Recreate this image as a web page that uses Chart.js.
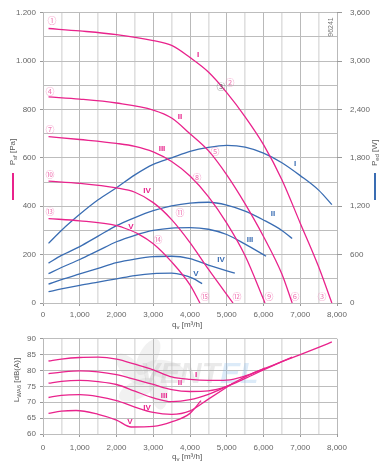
<!DOCTYPE html>
<html>
<head>
<meta charset="utf-8">
<script src="https://cdn.jsdelivr.net/npm/chart.js@4"></script>
<style>
  body { margin: 0; background: #fff; width: 386px; height: 465px; position: relative; overflow: hidden; }
  canvas { position: absolute; left: 0; }
  #top { top: 0; }
  #bot { top: 330px; }
</style>
</head>
<body>
<canvas id="top" width="386" height="330"></canvas>
<canvas id="bot" width="386" height="135"></canvas>
<script>
// flow values (m3/h) and static pressure (Pa) for speed curves I..V
const qI = [150, 1000, 2000, 3000, 3500, 4000, 4500, 5000, 5500, 6000, 6500, 7000, 7500, 7860];
const pI = [1135, 1125, 1110, 1085, 1065, 1015, 955, 870, 770, 655, 510, 330, 150, 0];
const qII = [150, 1000, 2000, 3000, 3500, 4000, 4500, 5000, 5500, 6000, 6500, 6780];
const pII = [852, 843, 827, 798, 765, 700, 630, 530, 410, 275, 120, 0];
const qIII = [150, 1000, 2000, 2500, 3000, 3500, 4000, 4500, 5000, 5500, 6040];
const pIII = [688, 676, 660, 648, 625, 585, 525, 440, 330, 195, 0];
const qIV = [150, 1000, 2000, 2500, 3000, 3500, 4000, 4500, 5170];
const pIV = [504, 495, 476, 458, 415, 345, 250, 140, 0];
const qV = [150, 1000, 2000, 2300, 2600, 3000, 3500, 4000, 4270];
const pV = [349, 340, 320, 305, 285, 245, 170, 75, 0];

// power input (W), right axis
const wqI = [150, 500, 1000, 1500, 2000, 2500, 3000, 3500, 4000, 4500, 5000, 5500, 6000, 6500, 7000, 7500, 7860];
const wI = [740, 900, 1100, 1280, 1430, 1590, 1720, 1800, 1880, 1930, 1955, 1935, 1860, 1740, 1580, 1400, 1220];
const wqII = [150, 500, 1000, 1500, 2000, 2500, 3000, 3500, 4000, 4500, 5000, 5500, 6000, 6500, 6780];
const wII = [495, 590, 700, 830, 960, 1060, 1145, 1205, 1240, 1250, 1215, 1140, 1030, 900, 800];
const wqIII = [150, 500, 1000, 1500, 2000, 2500, 3000, 3500, 4000, 4500, 5000, 5500, 6070];
const wIII = [365, 440, 540, 650, 760, 840, 900, 930, 935, 915, 850, 730, 580];
const wqIV = [150, 500, 1000, 1500, 2000, 2500, 3000, 3500, 4000, 4500, 5220];
const wIV = [235, 290, 360, 430, 500, 545, 575, 580, 550, 470, 370];
const wqV = [150, 500, 1000, 1500, 2000, 2500, 3000, 3500, 3800, 4080, 4330];
const wV = [140, 175, 220, 260, 300, 340, 365, 370, 350, 305, 240];

// sound power level dB(A)
const sqI = [150, 500, 1000, 1500, 2000, 2500, 3000, 3500, 4000, 4500, 5000, 5500, 6000, 6500, 7000, 7500, 7860];
const sI = [83, 83.6, 84.1, 84.2, 83.6, 82, 80.2, 78, 77.2, 76.9, 77, 78.3, 80.5, 82.8, 85, 87.3, 89];
const sqII = [150, 500, 1000, 1500, 2000, 2500, 3000, 3500, 4000, 4500, 5000, 5500, 6000, 6500, 6780];
const sII = [79, 79.5, 79.9, 79.6, 78.7, 77.2, 75.6, 74, 73.4, 73.6, 75, 77.5, 80.2, 82.8, 84.2];
const sqIII = [150, 500, 1000, 1500, 2000, 2500, 3000, 3500, 4000, 4500, 5000, 5500, 6040];
const sIII = [76, 76.6, 76.9, 76.5, 75.6, 73.5, 71.4, 70.2, 70.8, 72.5, 75, 78, 80.8];
const sqIV = [150, 500, 1000, 1500, 2000, 2500, 3000, 3500, 4000, 4500, 5170];
const sIV = [71.5, 72.2, 72.4, 71.8, 70.5, 68.5, 66.8, 66.2, 67.3, 71, 76];
const sqV = [150, 500, 900, 1500, 2000, 2400, 3000, 3500, 4000, 4300];
const sV = [66.5, 67.2, 67.4, 66.2, 64.4, 62.2, 62.4, 63.8, 66.5, 70.5];

// labels, positioned in data units [q, value, text]
const pinkRoman = [[4218, 1028, 'I'], [3728, 770, 'II'], [3238, 639, 'III'], [2830, 463, 'IV'], [2395, 316, 'V']];
const blueRoman = [[6857, 574, 'I'], [6259, 369, 'II'], [5633, 263, 'III'], [4844, 177, 'IV'], [4163, 120, 'V']];
const points = [[245, 1167, '①'], [190, 876, '④'], [190, 717, '⑦'], [190, 533, '⑩'], [190, 378, '⑬'],
  [5088, 913, '②'], [4680, 627, '⑤'], [4190, 517, '⑧'], [3728, 373, '⑪'], [3129, 263, '⑭'],
  [4408, 26, '⑮'], [5279, 26, '⑫'], [6150, 26, '⑨'], [6857, 26, '⑥'], [7592, 26, '③']];
const grayPoint = [4844, 893, '③'];
const soundRoman = [[4163, 78.7, 'I'], [3728, 76.0, 'II'], [3293, 72.0, 'III'], [2830, 68.3, 'IV'], [2367, 63.8, 'V']];

const PINK = '#e9238c';
const BLUE = '#3a6db3';
const FONT = 'Liberation Sans, Arial, sans-serif';

function curve(xs, ys, color, axis) {
  return {
    data: xs.map((x, i) => ({ x: x, y: ys[i] })),
    borderColor: color,
    borderWidth: 1.3,
    pointRadius: 0,
    showLine: true,
    fill: false,
    cubicInterpolationMode: 'monotone',
    yAxisID: axis
  };
}

function comma(v) { return v.toLocaleString('en-US'); }
function dot(v) { return v >= 1000 ? '1.' + String(v % 1000).padStart(3, '0') : String(v); }

const tickFont = { family: FONT, size: 8 };

function xScale(h, pad) {
  return {
    type: 'linear', min: 0, max: 8000,
    ticks: { stepSize: 500, autoSkip: false, maxRotation: 0, color: '#666', font: tickFont, padding: pad,
      callback: v => v % 1000 === 0 ? comma(v) : '' },
    grid: { color: c => c.tick && c.tick.value % 1000 === 0 ? '#b9b9b9' : '#e0e0e0',
      lineWidth: c => c.tick && c.tick.value % 1000 === 0 ? 1 : 1.6,
      tickLength: 3, tickColor: c => c.tick && c.tick.value % 1000 === 0 ? '#999' : 'rgba(0,0,0,0)' },
    border: { display: false },
    afterFit: s => { s.height = h; }
  };
}

function drawSubTitle(ctx, x, y, main, sub, rest, rotate) {
  ctx.save();
  ctx.translate(x, y);
  if (rotate) ctx.rotate(-Math.PI / 2);
  ctx.fillStyle = '#555';
  ctx.textBaseline = 'middle';
  ctx.font = '8px ' + FONT;
  const w1 = ctx.measureText(main).width;
  ctx.font = '6px ' + FONT;
  const w2 = ctx.measureText(sub).width;
  ctx.font = '8px ' + FONT;
  const w3 = ctx.measureText(rest).width;
  let px = rotate ? -(w1 + w2 + w3) / 2 : 0;
  ctx.fillText(main, px, 0);
  px += w1;
  ctx.font = '6px ' + FONT;
  ctx.fillText(sub, px, 2.5);
  px += w2;
  ctx.font = '8px ' + FONT;
  ctx.fillText(rest, px, 0);
  ctx.restore();
}

const topNotes = {
  id: 'topNotes',
  afterDatasetsDraw(chart) {
    const ctx = chart.ctx;
    const xs = chart.scales.x, ys = chart.scales.y;
    ctx.save();
    ctx.textAlign = 'center';
    ctx.textBaseline = 'middle';
    ctx.font = 'bold 8px ' + FONT;
    ctx.fillStyle = PINK;
    pinkRoman.forEach(l => ctx.fillText(l[2], xs.getPixelForValue(l[0]), ys.getPixelForValue(l[1])));
    ctx.fillStyle = BLUE;
    blueRoman.forEach(l => ctx.fillText(l[2], xs.getPixelForValue(l[0]), ys.getPixelForValue(l[1])));
    ctx.font = '9px Noto Sans CJK JP, DejaVu Sans, sans-serif';
    ctx.fillStyle = '#f07ab5';
    points.forEach(l => ctx.fillText(l[2], xs.getPixelForValue(l[0]), ys.getPixelForValue(l[1])));
    ctx.fillStyle = '#666';
    ctx.fillText(grayPoint[2], xs.getPixelForValue(grayPoint[0]), ys.getPixelForValue(grayPoint[1]));
    ctx.restore();

    // axis titles
    drawSubTitle(ctx, 13, 152, 'P', 'sf', ' [Pa]', true);
    drawSubTitle(ctx, 375, 153, 'P', 'ed', ' [W]', true);
    drawSubTitle(ctx, 172, 325, 'q', 'v', ' [m³/h]', false);
    ctx.save();
    ctx.lineWidth = 2;
    ctx.strokeStyle = PINK;
    ctx.beginPath(); ctx.moveTo(13, 173); ctx.lineTo(13, 200); ctx.stroke();
    ctx.strokeStyle = BLUE;
    ctx.beginPath(); ctx.moveTo(375, 173); ctx.lineTo(375, 200); ctx.stroke();
    ctx.translate(331, 27);
    ctx.rotate(-Math.PI / 2);
    ctx.font = '7px ' + FONT;
    ctx.fillStyle = '#777';
    ctx.textAlign = 'center';
    ctx.textBaseline = 'middle';
    ctx.fillText('96241', 0, 0);
    ctx.restore();
  }
};

new Chart(document.getElementById('top'), {
  type: 'scatter',
  data: {
    datasets: [
      curve(qI, pI, PINK, 'y'), curve(qII, pII, PINK, 'y'), curve(qIII, pIII, PINK, 'y'),
      curve(qIV, pIV, PINK, 'y'), curve(qV, pV, PINK, 'y'),
      curve(wqI, wI, BLUE, 'y2'), curve(wqII, wII, BLUE, 'y2'), curve(wqIII, wIII, BLUE, 'y2'),
      curve(wqIV, wIV, BLUE, 'y2'), curve(wqV, wV, BLUE, 'y2')
    ]
  },
  options: {
    responsive: false,
    animation: false,
    layout: { padding: { top: 10, left: 0, right: 0, bottom: 0 } },
    plugins: { legend: { display: false }, tooltip: { enabled: false } },
    scales: {
      x: xScale(27, 4),
      y: {
        position: 'left', min: 0, max: 1200,
        ticks: { stepSize: 100, autoSkip: false, color: '#666', font: tickFont, padding: 4,
          callback: v => v % 200 === 0 ? dot(v) : '' },
        grid: { color: '#bdbdbd', tickLength: 3,
          tickColor: c => c.tick && c.tick.value % 200 === 0 ? '#999' : 'rgba(0,0,0,0)' },
        border: { display: false },
        afterFit: s => { s.width = 43; }
      },
      y2: {
        position: 'right', min: 0, max: 3600,
        ticks: { stepSize: 600, color: '#666', font: tickFont, padding: 8, callback: v => comma(v) },
        grid: { drawOnChartArea: false, tickLength: 5, tickColor: '#999' },
        border: { display: false },
        afterFit: s => { s.width = 49; }
      }
    }
  },
  plugins: [topNotes]
});

const botNotes = {
  id: 'botNotes',
  beforeDatasetsDraw(chart) {
    const ctx = chart.ctx;
    ctx.save();
    // faint watermark
    ctx.fillStyle = 'rgba(190,190,190,0.22)';
    for (let i = 0; i < 5; i++) {
      ctx.save();
      ctx.translate(148, 45);
      ctx.rotate(i * 2 * Math.PI / 5);
      ctx.beginPath();
      ctx.ellipse(0, -18, 9, 20, 0.5, 0, 2 * Math.PI);
      ctx.fill();
      ctx.restore();
    }
    ctx.font = 'italic bold 30px ' + FONT;
    ctx.textBaseline = 'middle';
    ctx.fillStyle = 'rgba(180,180,180,0.28)';
    ctx.fillText('VENT', 140, 45);
    const w = ctx.measureText('VENT').width;
    ctx.fillStyle = 'rgba(140,190,235,0.3)';
    ctx.fillText('EL', 140 + w, 45);
    ctx.restore();
  },
  afterDatasetsDraw(chart) {
    const ctx = chart.ctx;
    const xs = chart.scales.x, ys = chart.scales.y;
    ctx.save();
    ctx.textAlign = 'center';
    ctx.textBaseline = 'middle';
    ctx.font = 'bold 8px ' + FONT;
    ctx.fillStyle = PINK;
    soundRoman.forEach(l => ctx.fillText(l[2], xs.getPixelForValue(l[0]), ys.getPixelForValue(l[1])));
    ctx.restore();
    drawSubTitle(ctx, 17, 50, 'L', 'WA6', ' [dB(A)]', true);
    drawSubTitle(ctx, 172, 127, 'q', 'v', ' [m³/h]', false);
  }
};

new Chart(document.getElementById('bot'), {
  type: 'scatter',
  data: {
    datasets: [
      curve(sqI, sI, PINK, 'y'), curve(sqII, sII, PINK, 'y'), curve(sqIII, sIII, PINK, 'y'),
      curve(sqIV, sIV, PINK, 'y'), curve(sqV, sV, PINK, 'y')
    ]
  },
  options: {
    responsive: false,
    animation: false,
    layout: { padding: { top: 6, left: 0, right: 49, bottom: 0 } },
    plugins: { legend: { display: false }, tooltip: { enabled: false } },
    scales: {
      x: xScale(31, 6),
      y: {
        position: 'left', min: 60, max: 90,
        ticks: { stepSize: 5, color: '#666', font: tickFont, padding: 4 },
        grid: { color: '#bdbdbd', tickLength: 3, tickColor: '#999' },
        border: { display: false },
        afterFit: s => { s.width = 43; }
      }
    }
  },
  plugins: [botNotes]
});
</script>
</body>
</html>
